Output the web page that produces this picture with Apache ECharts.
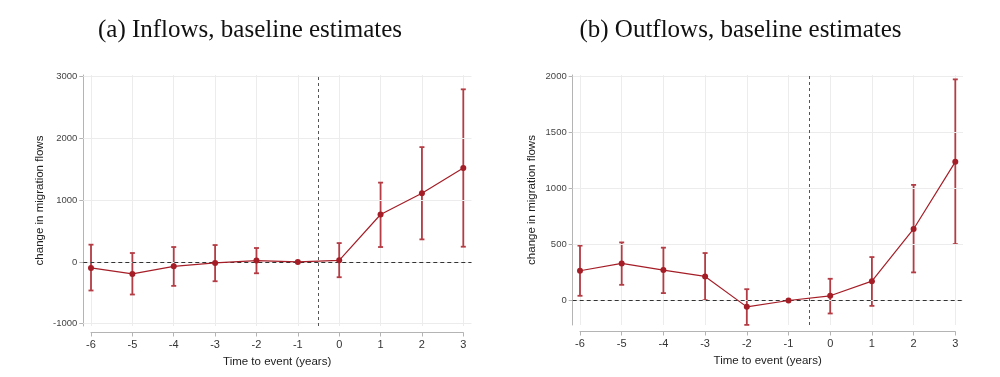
<!DOCTYPE html>
<html>
<head>
<meta charset="utf-8">
<script src="https://cdn.jsdelivr.net/npm/echarts@6/dist/echarts.min.js"></script>
<style>
html,body{margin:0;padding:0;background:#fff;}
#chart{width:1000px;height:377px;}
</style>
</head>
<body>
<div id="chart"></div>
<script>
// ---- data ----
const eventTime = [-6, -5, -4, -3, -2, -1, 0, 1, 2, 3];

const inflowEst   = [-97, -194, -70, -16, 22, 0, 27, 769, 1113, 1522];
const inflowLow   = [-462, -527, -387, -312, -183, null, -247, 242, 366, 247];
const inflowHigh  = [280, 145, 242, 274, 226, null, 306, 1285, 1860, 2796];

const outflowEst  = [266, 331, 272, 215, -57, 0, 42, 173, 639, 1239];
const outflowLow  = [42, 140, 66, 3, -218, null, -116, -48, 251, 504];
const outflowHigh = [490, 519, 472, 424, 101, null, 194, 388, 1033, 1976];

const inflowYTicks  = [-1000, 0, 1000, 2000, 3000];
const outflowYTicks = [0, 500, 1000, 1500, 2000];

const titles = ['(a) Inflows, baseline estimates', '(b) Outflows, baseline estimates'];
const yName = 'change in migration flows';
const xName = 'Time to event (years)';
const eventLine = -0.5;

// ---- styling ----
const RED = '#a51e27';
const BAR = '#b43c44';
const AXIS = '#b4b4b4';
const GRIDC = '#ececec';
const LBL = '#333';

const panels = [
  {est: inflowEst, low: inflowLow, high: inflowHigh, ticks: inflowYTicks,
   yMin: -1037, yMax: 3028, pLeft: 83.3, pRight: 471.5, xLeft: 91, xRight: 463.3,
   top: 75, bottom: 326, nameGap: 37, titleX: 250},
  {est: outflowEst, low: outflowLow, high: outflowHigh, ticks: outflowYTicks,
   yMin: -219, yMax: 2015, pLeft: 572.7, pRight: 963, xLeft: 580, xRight: 955.3,
   top: 75, bottom: 325, nameGap: 35, titleX: 740.5}
];

const grid = [], xAxis = [], yAxis = [], series = [], graphic = [];

panels.forEach((p, i) => {
  const gP = grid.length;
  grid.push({left: p.pLeft, width: p.pRight - p.pLeft, top: p.top, height: p.bottom - p.top});
  const gX = grid.length;
  grid.push({left: p.xLeft, width: p.xRight - p.xLeft, top: p.top, height: p.bottom - p.top});

  // plot-grid axes (y axis visible)
  const xP = xAxis.length;
  xAxis.push({gridIndex: gP, type: 'value', min: 0, max: 1, show: false});
  const yP = yAxis.length;
  yAxis.push({
    gridIndex: gP, type: 'value', min: p.yMin, max: p.yMax,
    axisLine: {show: true, lineStyle: {color: AXIS, width: 1}},
    axisTick: {show: true, length: 4, inside: false, customValues: p.ticks, lineStyle: {color: AXIS}},
    axisLabel: {show: true, customValues: p.ticks, margin: 6, fontSize: 9.5, color: '#444',
                formatter: v => String(v),
                fontFamily: '"Liberation Sans", Arial, sans-serif'},
    splitLine: {show: false},
    name: yName, nameLocation: 'middle', nameGap: p.nameGap, nameRotate: 90,
    nameTextStyle: {fontSize: 11.5, color: '#222', fontFamily: '"Liberation Sans", Arial, sans-serif'}
  });

  // x-grid axes
  const xX = xAxis.length;
  xAxis.push({
    gridIndex: gX, type: 'value', min: eventTime[0], max: eventTime[eventTime.length - 1], interval: 1,
    offset: 6.5,
    axisLine: {show: true, onZero: false, lineStyle: {color: AXIS, width: 1}},
    axisTick: {show: true, length: 4, lineStyle: {color: AXIS}},
    axisLabel: {show: true, margin: 7, fontSize: 11, color: LBL,
                fontFamily: '"Liberation Sans", Arial, sans-serif'},
    splitLine: {show: true, lineStyle: {color: GRIDC, width: 1}},
    name: xName, nameLocation: 'middle', nameGap: 22,
    nameTextStyle: {fontSize: 11.5, color: '#222', fontFamily: '"Liberation Sans", Arial, sans-serif'}
  });
  const yX = yAxis.length;
  yAxis.push({gridIndex: gX, type: 'value', min: p.yMin, max: p.yMax, show: false});

  // horizontal gridlines + zero line in plot grid
  series.push({
    type: 'line', xAxisIndex: xP, yAxisIndex: yP, data: [], silent: true,
    markLine: {
      silent: true, symbol: 'none', label: {show: false}, animation: false,
      data: p.ticks.map(v => ({yAxis: v, lineStyle: {color: GRIDC, width: 1, type: 'solid'}}))
        .concat([{yAxis: 0, lineStyle: {color: '#333', width: 1, type: [4, 3]}}])
    }
  });

  // error bars
  const ebData = [];
  eventTime.forEach((t, k) => {
    if (p.low[k] !== null && p.high[k] !== null) ebData.push([t, p.low[k], p.high[k]]);
  });
  series.push({
    type: 'custom', xAxisIndex: xX, yAxisIndex: yX, data: ebData, silent: true, animation: false,
    renderItem: function (params, api) {
      const x = api.value(0);
      const top = api.coord([x, api.value(2)]);
      const bot = api.coord([x, api.value(1)]);
      const hw = 2.5;
      const st = {stroke: BAR, lineWidth: 1.8};
      return {type: 'group', children: [
        {type: 'line', shape: {x1: top[0], y1: top[1], x2: bot[0], y2: bot[1]}, style: st},
        {type: 'line', shape: {x1: top[0] - hw, y1: top[1], x2: top[0] + hw, y2: top[1]}, style: st},
        {type: 'line', shape: {x1: bot[0] - hw, y1: bot[1], x2: bot[0] + hw, y2: bot[1]}, style: st}
      ]};
    }
  });

  // point estimates
  series.push({
    type: 'line', xAxisIndex: xX, yAxisIndex: yX, animation: false,
    data: eventTime.map((t, k) => [t, p.est[k]]),
    symbol: 'circle', symbolSize: 6, z: 5,
    itemStyle: {color: RED, borderColor: RED, borderWidth: 0},
    lineStyle: {color: RED, width: 1.2},
    markLine: {
      silent: true, symbol: 'none', label: {show: false}, animation: false,
      data: [{xAxis: eventLine}],
      lineStyle: {color: '#555', width: 1, type: [3, 3]}
    }
  });

  graphic.push({
    type: 'text', x: p.titleX, y: 30,
    style: {text: titles[i], align: 'center', verticalAlign: 'middle', textAlign: 'center', textVerticalAlign: 'middle',
            fontSize: 25, fontFamily: '"Liberation Serif", "Times New Roman", serif', fill: '#111'}
  });
});

const chart = echarts.init(document.getElementById('chart'), null, {renderer: 'canvas'});
chart.setOption({
  backgroundColor: '#fff',
  animation: false,
  grid: grid, xAxis: xAxis, yAxis: yAxis, series: series, graphic: graphic
});
</script>
</body>
</html>
